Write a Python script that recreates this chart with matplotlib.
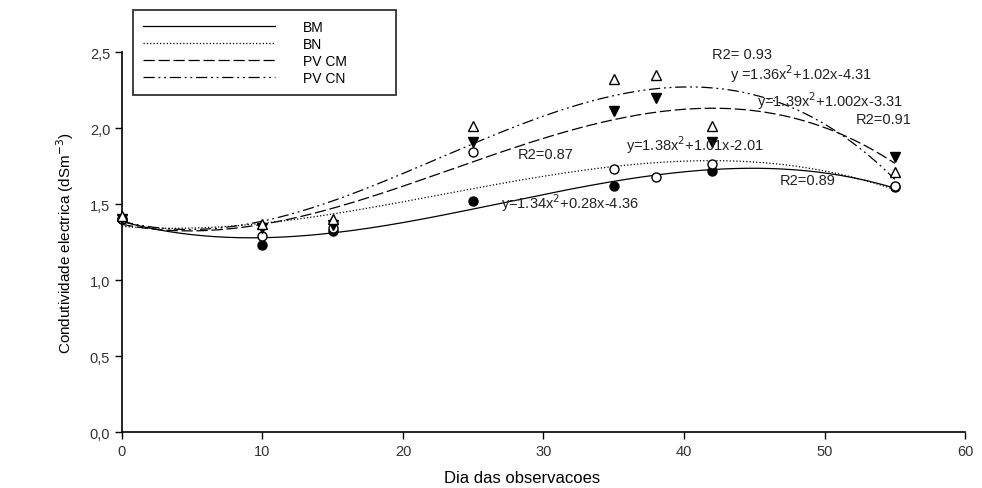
import numpy as np
import matplotlib
matplotlib.use("Agg")
import matplotlib.pyplot as plt
from matplotlib.ticker import FuncFormatter

plt.rcParams["font.family"] = ["Liberation Sans", "DejaVu Sans"]

# days of observation and measured conductivity per treatment
x_bm = [0, 10, 15, 25, 35, 42, 55]
y_bm = [1.40, 1.23, 1.32, 1.52, 1.62, 1.72, 1.61]

x_bn = [0, 10, 15, 25, 35, 38, 42, 55]
y_bn = [1.40, 1.29, 1.34, 1.84, 1.73, 1.68, 1.76, 1.62]

x_pvcm = [0, 10, 15, 25, 35, 38, 42, 55]
y_pvcm = [1.40, 1.34, 1.36, 1.91, 2.11, 2.20, 1.91, 1.81]

x_pvcn = [0, 10, 15, 25, 35, 38, 42, 55]
y_pvcn = [1.42, 1.37, 1.40, 2.01, 2.32, 2.35, 2.01, 1.71]

labels = ["BM", "BN", "PV CM", "PV CN"]

# text annotations (equations and R2) as printed on the chart
notes = [
    ("R2= 0.93", 42.0, 2.44),
    ("y =1.36x$^2$+1.02x-4.31", 43.3, 2.29),
    ("y=1.39x$^2$+1.002x-3.31", 45.2, 2.11),
    ("R2=0.91", 52.2, 2.01),
    ("R2=0.87", 28.2, 1.78),
    ("y=1.38x$^2$+1.01x-2.01", 35.9, 1.82),
    ("R2=0.89", 46.8, 1.61),
    ("y=1.34x$^2$+0.28x-4.36", 27.0, 1.44),
]

series = [
    (x_bm, y_bm, "-", "o", "black"),
    (x_bn, y_bn, ":", "o", "white"),
    (x_pvcm, y_pvcm, (0, (9, 3)), "v", "black"),
    (x_pvcn, y_pvcn, (0, (9, 3, 1.5, 3, 1.5, 3)), "^", "white"),
]

fig = plt.figure(figsize=(9.82, 4.89), dpi=100)
ax = fig.add_axes([0.1242, 0.1145, 0.8585, 0.7771])

# fitted trend curves
xs = np.linspace(0, 55, 200)
handles = []
for (x, y, ls, mk, fc), lab in zip(series, labels):
    coef = np.polyfit(x, y, 3)
    line, = ax.plot(xs, np.polyval(coef, xs), color="black", lw=0.9, linestyle=ls, label=lab)
    handles.append(line)

for x, y, ls, mk, fc in series:
    ax.plot(x, y, linestyle="none", marker=mk, markersize=6.5, markerfacecolor=fc,
            markeredgecolor="black", markeredgewidth=1.0, clip_on=False, zorder=3)

for txt, tx, ty in notes:
    ax.text(tx, ty, txt, fontsize=10.5, va="bottom", ha="left", color="#222222")

ax.set_xlim(0, 60)
ax.set_ylim(0, 2.5)
ax.set_xticks(range(0, 61, 10))
ax.set_yticks(np.arange(0, 2.51, 0.5))
ax.yaxis.set_major_formatter(FuncFormatter(lambda v, p: f"{v:.1f}".replace(".", ",")))
ax.tick_params(direction="out", length=5, width=1, labelsize=10.5, colors="black")
for lbl in ax.get_yticklabels() + ax.get_xticklabels():
    lbl.set_color("#333333")
ax.spines["top"].set_visible(False)
ax.spines["right"].set_visible(False)
ax.spines["left"].set_linewidth(1.2)
ax.spines["bottom"].set_linewidth(1.2)

ax.set_xlabel("Dia das observacoes", fontsize=12)
ax.xaxis.set_label_coords(0.475, -0.1)
ax.set_ylabel("Condutividade electrica (dSm$^{-3}$)", fontsize=11, labelpad=10)

leg_labels = [lab + "          " if lab.startswith("PV") else lab for lab in labels]
leg = fig.legend(handles=handles, labels=leg_labels, loc="upper left",
                 bbox_to_anchor=(0.128, 0.992), frameon=True, fancybox=False,
                 handlelength=9.5, fontsize=10, labelspacing=0.2, borderpad=0.75,
                 handletextpad=2.0, edgecolor="black")
leg.get_frame().set_linewidth(1.3)

fig.savefig("out.png", dpi=100)
